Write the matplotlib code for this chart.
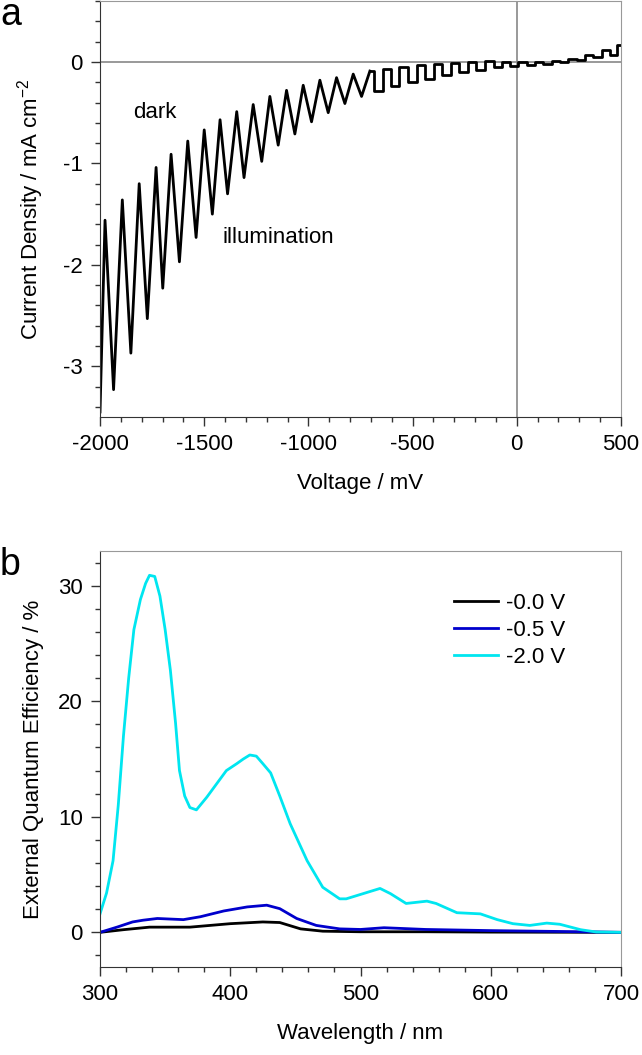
import numpy as np
import matplotlib
matplotlib.use("Agg")
import matplotlib.pyplot as plt

plt.rcParams['font.family'] = ['Liberation Sans', 'DejaVu Sans']
plt.rcParams['mathtext.fontset'] = 'custom'
plt.rcParams['mathtext.rm'] = 'Liberation Sans'
plt.rcParams['mathtext.it'] = 'Liberation Sans'
plt.rcParams['axes.unicode_minus'] = False

# panel a: chopped-light J-V scan
v_start, j_start = -2000, -3.45
v_end, j_end = 500, 0.165
v_dark = [-1976, -1893, -1812, -1731, -1659, -1579, -1500, -1424, -1344, -1265,
          -1185, -1105, -1025, -945, -865, -785, -705, -622, -542, -457, -377,
          -294, -212, -129, -49, 31, 111, 191, 271, 351, 431]
j_dark = [-1.56, -1.36, -1.20, -1.04, -0.91, -0.78, -0.67, -0.57, -0.49, -0.42,
          -0.34, -0.28, -0.23, -0.18, -0.155, -0.12, -0.09, -0.065, -0.05, -0.033,
          -0.023, -0.01, -0.003, 0.005, 0.004, -0.005, 0.0, 0.008, 0.03, 0.066, 0.12]
v_light = [-1935, -1852, -1773, -1699, -1619, -1539, -1461, -1388, -1309, -1224,
           -1145, -1065, -985, -905, -825, -745, -665, -585, -500, -420, -337,
           -257, -177, -94, -18, 62, 142, 222, 302, 382, 462]
j_light = [-3.23, -2.87, -2.53, -2.23, -1.97, -1.73, -1.50, -1.30, -1.14, -0.98,
           -0.82, -0.71, -0.59, -0.50, -0.41, -0.34, -0.29, -0.24, -0.20, -0.165,
           -0.13, -0.10, -0.075, -0.05, -0.04, -0.03, -0.02, -0.005, 0.015, 0.05, 0.07]

# panel b: EQE spectra
wl_20 = [300, 305, 310, 314, 318, 322, 326, 331, 335, 338, 342, 346, 350, 354, 358,
         361, 365, 369, 374, 382, 397, 405, 410, 415, 420, 425, 431, 438, 446, 459,
         471, 484, 489, 502, 515, 523, 535, 551, 558, 574, 592, 605, 617, 630, 643,
         653, 669, 681, 700]
eqe_20 = [1.6, 3.4, 6.2, 11.0, 17.0, 22.0, 26.2, 28.8, 30.2, 30.9, 30.8, 29.1, 26.2,
          22.7, 18.1, 14.0, 11.8, 10.8, 10.6, 11.7, 14.0, 14.6, 15.0, 15.35, 15.25,
          14.6, 13.8, 11.8, 9.4, 6.2, 3.9, 2.9, 2.9, 3.35, 3.8, 3.35, 2.5, 2.7, 2.5,
          1.7, 1.6, 1.1, 0.75, 0.6, 0.8, 0.7, 0.23, 0.03, 0.0]
wl_05 = [300, 313, 325, 333, 344, 364, 377, 395, 413, 428, 438, 451, 466, 484, 500,
         518, 550, 600, 650, 700]
eqe_05 = [0.0, 0.45, 0.9, 1.05, 1.2, 1.1, 1.35, 1.85, 2.2, 2.35, 2.05, 1.2, 0.6, 0.3,
          0.25, 0.4, 0.25, 0.15, 0.08, 0.0]
wl_00 = [300, 318, 338, 369, 400, 425, 438, 454, 471, 500, 550, 600, 700]
eqe_00 = [0.0, 0.23, 0.45, 0.45, 0.75, 0.9, 0.85, 0.3, 0.1, 0.05, 0.05, 0.02, 0.0]
labels = ['-0.0 V', '-0.5 V', '-2.0 V']
colors = ['black', '#0000cc', '#00e6f0']

FS = 16


def style(ax):
    for s in ['left', 'bottom']:
        ax.spines[s].set_color('#333333')
    for s in ['top', 'right']:
        ax.spines[s].set_color('#999999')
    ax.tick_params(which='major', direction='out', length=6.5, width=1,
                   color='#333333', labelsize=FS, pad=6)
    ax.tick_params(which='minor', direction='out', length=3.5, width=1,
                   color='#333333')


fig = plt.figure(figsize=(6.42, 10.55), dpi=100)

# ---- panel a
ax1 = fig.add_axes([0.1558, 0.6047, 0.8115, 0.3943])
v_all = np.array([v_start] + v_dark + v_light + [v_end], dtype=float)
j_all = np.array([j_start] + j_dark + j_light + [j_end])
order = np.argsort(v_all)
v_all, j_all = v_all[order], j_all[order]
left = v_all <= -700
right = v_all >= -705
ax1.axhline(0, color='#888888', lw=1.2)
ax1.axvline(0, color='#888888', lw=1.2)
ax1.plot(v_all[left], j_all[left], color='black', lw=2, solid_joinstyle='round')
ax1.plot(v_all[right], j_all[right], color='black', lw=2, drawstyle='steps-mid')
ax1.set_xlim(-2000, 500)
ax1.set_ylim(-3.5, 0.6)
ax1.set_xticks(np.arange(-2000, 501, 500))
ax1.set_xticks(np.arange(-2000, 501, 100), minor=True)
ax1.set_yticks([-3, -2, -1, 0])
ax1.set_yticks(np.arange(-3.4, 0.61, 0.2), minor=True)
style(ax1)
ax1.set_xlabel('Voltage / mV', fontsize=FS, labelpad=13)
ax1.set_ylabel(r'Current Density / mA cm$^{-2}$', fontsize=FS, labelpad=12)
ax1.text(-1842, -0.5, 'dark', fontsize=FS, va='center', ha='left')
ax1.text(-1410, -1.73, 'illumination', fontsize=FS, va='center', ha='left')

# ---- panel b
ax2 = fig.add_axes([0.1558, 0.0834, 0.8115, 0.3943])
for wl, eqe, lab, c in zip([wl_00, wl_05, wl_20], [eqe_00, eqe_05, eqe_20], labels, colors):
    ax2.plot(wl, eqe, color=c, lw=2, label=lab)
ax2.set_xlim(300, 700)
ax2.set_ylim(-3, 33)
ax2.set_xticks(np.arange(300, 701, 100))
ax2.set_xticks(np.arange(300, 701, 20), minor=True)
ax2.set_yticks([0, 10, 20, 30])
ax2.set_yticks(np.arange(-2, 33, 2), minor=True)
style(ax2)
ax2.set_xlabel('Wavelength / nm', fontsize=FS, labelpad=13)
ax2.set_ylabel('External Quantum Efficiency / %', fontsize=FS, labelpad=10)
ax2.legend(loc='upper left', bbox_to_anchor=(0.6795, 0.9), frameon=False,
           fontsize=FS, handlelength=2.0, handletextpad=0.35, labelspacing=0.28,
           borderpad=0, borderaxespad=0)

fig.text(0.0, 0.976, 'a', fontsize=27, ha='left', va='baseline')
fig.text(0.0, 0.455, 'b', fontsize=27, ha='left', va='baseline')

fig.savefig('out.png', dpi=100)
